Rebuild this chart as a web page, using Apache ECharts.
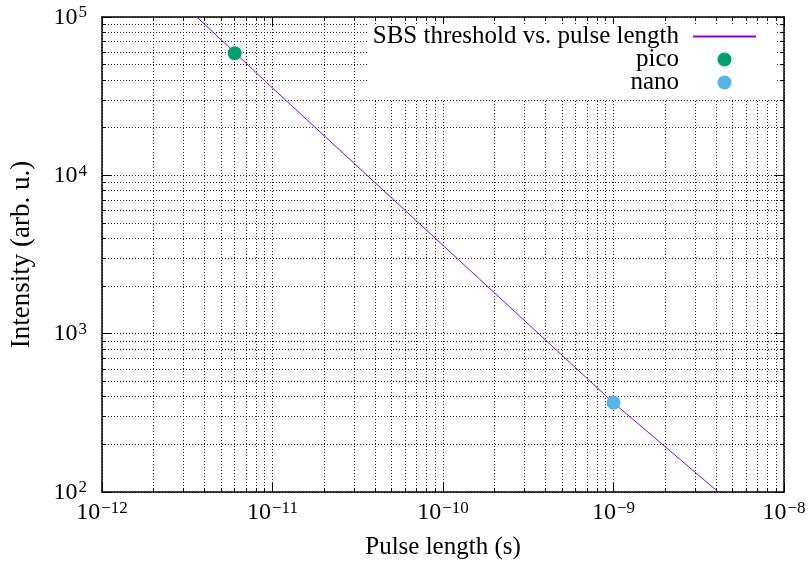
<!DOCTYPE html>
<html><head><meta charset="utf-8">
<script src="https://cdn.jsdelivr.net/npm/echarts@6/dist/echarts.min.js"></script>
<style>html,body{margin:0;padding:0;background:#fff}#c{width:809px;height:567px}</style>
</head><body><div id="c"></div>
<script>
// Threshold curve
const lineT = [3.6e-12, 1e-11, 8.8e-11, 1e-9, 4.12e-9];
const lineI = [1e5, 3.56e4, 4100, 366, 100];
// Measured points
const picoT = [6.0e-12];
const picoI = [5.9e4];
const nanoT = [1.0e-9];
const nanoI = [366];
// Axis ranges
const xMin = 1e-12, xMax = 1e-8;
const yMin = 1e2, yMax = 1e5;
const seriesNames = ['SBS threshold vs. pulse length', 'pico', 'nano'];

const FONT = 'Liberation Serif';
const sup = v => {
  const e = Math.round(Math.log10(v));
  return '{b|10}{s|' + String(e).replace('-', '\u2212') + '}';
};
const rich = {
  b: {fontFamily: FONT, fontSize: 24, color: '#000', verticalAlign: 'bottom'},
  s: {fontFamily: FONT, fontSize: 17, color: '#000', verticalAlign: 'bottom', padding: [0, 0, 8, 1]}
};
const dotted = {color: '#222', width: 1, type: [1, 2]};

function axisCommon(extra) {
  return Object.assign({
    type: 'log', logBase: 10,
    axisLine: {show: true, onZero: false, lineStyle: {color: '#000', width: 1.5}},
    axisTick: {show: true, inside: true, length: 9, lineStyle: {color: '#000', width: 1}},
    minorTick: {show: true, splitNumber: 9, length: 4, lineStyle: {color: '#000', width: 1}},
    splitLine: {show: true, lineStyle: dotted},
    minorSplitLine: {show: true, lineStyle: dotted}
  }, extra);
}

const chart = echarts.init(document.getElementById('c'), null, {renderer: 'canvas'});
chart.setOption({
  animation: false,
  backgroundColor: '#fff',
  grid: {left: 101, right: 25, top: 17, bottom: 75, containLabel: false},
  xAxis: [
    axisCommon({min: xMin, max: xMax, position: 'bottom',
      name: 'Pulse length (s)', nameLocation: 'middle', nameGap: 43,
      nameTextStyle: {fontFamily: FONT, fontSize: 25, color: '#000'},
      axisLabel: {formatter: sup, rich: rich, margin: 8}}),
    axisCommon({min: xMin, max: xMax, position: 'top',
      splitLine: {show: false}, minorSplitLine: {show: false}, axisLabel: {show: false}})
  ],
  yAxis: [
    axisCommon({min: yMin, max: yMax, position: 'left',
      name: 'Intensity (arb. u.)', nameLocation: 'middle', nameGap: 67,
      nameTextStyle: {fontFamily: FONT, fontSize: 27, color: '#000'},
      axisLabel: {formatter: sup, rich: rich, margin: 15}}),
    axisCommon({min: yMin, max: yMax, position: 'right',
      splitLine: {show: false}, minorSplitLine: {show: false}, axisLabel: {show: false}})
  ],
  legend: {
    orient: 'vertical', align: 'right', right: 32, top: 24,
    backgroundColor: '#fff', padding: [0, 20, 4, 4],
    itemWidth: 63, itemHeight: 14, itemGap: -2,
    textStyle: {fontFamily: FONT, fontSize: 25, color: '#000', lineHeight: 23, padding: [0, 9, 0, 0]},
    data: [
      {name: seriesNames[0], itemStyle: {opacity: 0, borderWidth: 0}},
      seriesNames[1],
      seriesNames[2]
    ]
  },
  series: [
    {name: seriesNames[0], type: 'line', symbol: 'none', xAxisIndex: 0, yAxisIndex: 0, z: 2,
     lineStyle: {color: '#9400d3', width: 1}, itemStyle: {color: '#9400d3'},
     data: lineT.map((t, i) => [t, lineI[i]])},
    {name: seriesNames[1], type: 'scatter', symbolSize: 14, z: 3, itemStyle: {color: '#009e73', opacity: 1},
     data: picoT.map((t, i) => [t, picoI[i]])},
    {name: seriesNames[2], type: 'scatter', symbolSize: 14, z: 3, itemStyle: {color: '#56b4e9', opacity: 1},
     data: nanoT.map((t, i) => [t, nanoI[i]])}
  ]
});
</script></body></html>
